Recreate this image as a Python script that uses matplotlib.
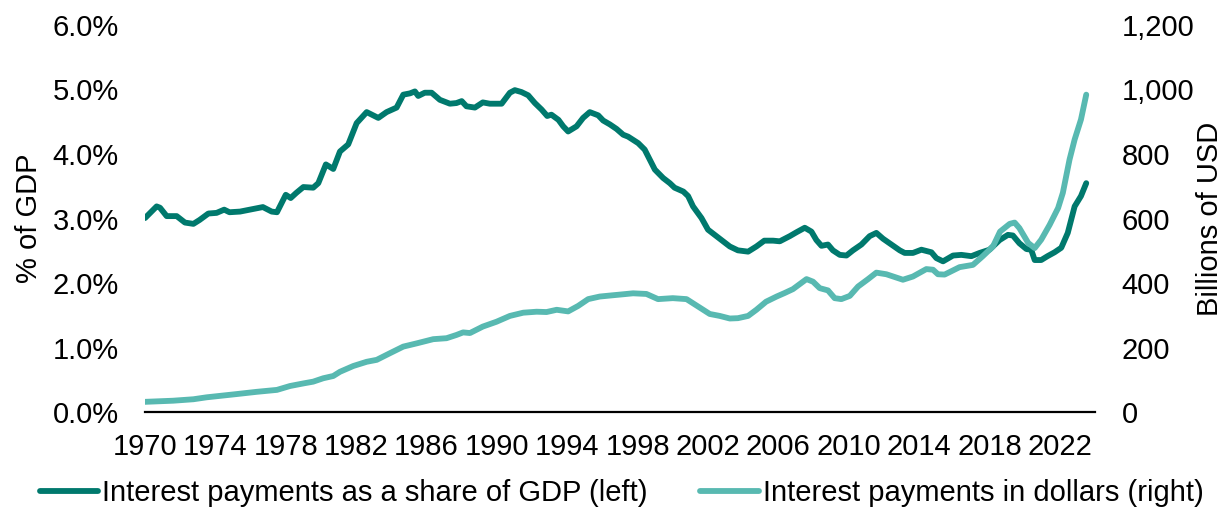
import matplotlib
matplotlib.use("Agg")
import matplotlib.pyplot as plt
from matplotlib.ticker import FuncFormatter, MultipleLocator
from matplotlib.lines import Line2D

plt.rcParams["font.family"] = ["Liberation Sans", "DejaVu Sans"]

# Net interest payments as a share of GDP (%), by year
gdp_years = [1970.0, 1970.66, 1970.85, 1971.23, 1971.8, 1972.27, 1972.75, 1973.1, 1973.6,
             1974.07, 1974.5, 1974.8, 1975.4, 1975.97, 1976.7, 1977.2, 1977.5, 1978.0,
             1978.28, 1978.6, 1979.0, 1979.56, 1979.85, 1980.28, 1980.7, 1981.08, 1981.55,
             1982.03, 1982.4, 1982.6, 1983.26, 1983.73, 1984.3, 1984.68, 1985.06, 1985.34,
             1985.53, 1985.9, 1986.29, 1986.76, 1987.33, 1987.7, 1988.0, 1988.27, 1988.75,
             1989.2, 1989.6, 1990.27, 1990.74, 1991.02, 1991.4, 1991.78, 1992.16, 1992.54,
             1992.86, 1993.1, 1993.5, 1993.77, 1994.05, 1994.53, 1994.9, 1995.28, 1995.76,
             1996.04, 1996.42, 1996.8, 1997.18, 1997.46, 1998.03, 1998.4, 1998.7, 1998.98,
             1999.45, 1999.83, 2000.1, 2000.6, 2000.87, 2001.15, 2001.63, 2002.0, 2002.48,
             2002.86, 2003.24, 2003.7, 2004.28, 2004.75, 2005.2, 2005.7, 2006.08, 2006.65,
             2007.03, 2007.5, 2007.88, 2008.16, 2008.45, 2008.82, 2009.1, 2009.49, 2009.87,
             2010.24, 2010.72, 2011.19, 2011.57, 2011.95, 2012.42, 2012.9, 2013.18, 2013.65,
             2014.13, 2014.7, 2014.98, 2015.36, 2015.93, 2016.4, 2016.97, 2017.44, 2018.0,
             2018.58, 2019.05, 2019.33, 2019.7, 2020.1, 2020.37, 2020.57, 2020.94, 2021.3,
             2021.7, 2022.08, 2022.45, 2022.84, 2023.2, 2023.5]
gdp_share = [3.01, 3.19, 3.17, 3.04, 3.04, 2.94, 2.92, 2.98, 3.08,
             3.09, 3.14, 3.10, 3.11, 3.14, 3.18, 3.11, 3.10, 3.37,
             3.32, 3.40, 3.49, 3.48, 3.55, 3.84, 3.77, 4.04, 4.15,
             4.48, 4.59, 4.65, 4.56, 4.65, 4.72, 4.92, 4.94, 4.97,
             4.90, 4.95, 4.95, 4.84, 4.78, 4.79, 4.82, 4.74, 4.72,
             4.80, 4.78, 4.78, 4.95, 4.99, 4.96, 4.91, 4.79, 4.69,
             4.59, 4.61, 4.53, 4.43, 4.35, 4.43, 4.56, 4.65, 4.60,
             4.52, 4.46, 4.39, 4.30, 4.27, 4.17, 4.07, 3.91, 3.76,
             3.63, 3.55, 3.48, 3.42, 3.35, 3.19, 3.01, 2.83, 2.73,
             2.65, 2.57, 2.51, 2.49, 2.57, 2.66, 2.66, 2.65, 2.73,
             2.79, 2.86, 2.80, 2.67, 2.58, 2.60, 2.51, 2.44, 2.43,
             2.51, 2.60, 2.73, 2.78, 2.69, 2.60, 2.51, 2.47, 2.47,
             2.52, 2.48, 2.39, 2.34, 2.43, 2.44, 2.42, 2.47, 2.52,
             2.67, 2.75, 2.74, 2.62, 2.53, 2.52, 2.36, 2.36, 2.42,
             2.48, 2.55, 2.78, 3.19, 3.35, 3.55]

# Net interest payments in billions of US dollars, by year
usd_years = [1970.0, 1971.6, 1972.75, 1973.5, 1975.2, 1976.35, 1977.5, 1978.24, 1979.0,
             1979.56, 1980.13, 1980.7, 1981.08, 1981.84, 1982.6, 1983.17, 1983.9, 1984.68,
             1985.44, 1986.38, 1987.14, 1987.7, 1988.08, 1988.47, 1989.2, 1989.98, 1990.74,
             1991.5, 1992.26, 1992.82, 1993.4, 1994.05, 1994.62, 1995.19, 1995.85, 1996.6,
             1997.18, 1997.74, 1998.5, 1999.16, 2000.0, 2000.78, 2001.44, 2002.1, 2002.67,
             2003.24, 2003.7, 2004.28, 2004.75, 2005.3, 2005.9, 2006.36, 2006.83, 2007.6,
             2007.97, 2008.35, 2008.82, 2009.2, 2009.58, 2010.06, 2010.53, 2011.1, 2011.57,
             2012.14, 2013.08, 2013.65, 2014.41, 2014.79, 2015.07, 2015.45, 2016.3, 2017.06,
             2017.6, 2018.2, 2018.6, 2019.15, 2019.43, 2019.7, 2020.2, 2020.57, 2020.94,
             2021.42, 2021.9, 2022.17, 2022.55, 2022.84, 2023.2, 2023.5]
usd_bn = [33, 36.5, 41, 47, 57, 64, 70, 82, 90,
          95.5, 106, 113, 126, 144, 157, 163, 183, 204,
          214, 227, 230, 240, 248, 246, 266, 281, 299,
          309, 312, 311, 318, 313, 330, 351, 359, 363,
          366, 369, 367, 351, 354, 351, 328, 305, 299,
          291, 292, 299, 318, 343, 359, 370, 382, 413,
          405, 385, 378, 354, 351, 361, 390, 413, 433,
          428, 411, 421, 444, 442, 428, 427, 450, 457,
          483, 514, 560, 584, 588, 571, 525, 509, 535,
          581, 633, 680, 783, 845, 907, 984]

year_ticks = list(range(1970, 2023, 4))
label_share = "Interest payments as a share of GDP (left)"
label_usd = "Interest payments in dollars (right)"

dark = "#00796D"
light = "#58B9B1"
FS = 21
LW = 4.2

fig = plt.figure(figsize=(12.29, 5.08), dpi=100)
ax = fig.add_axes([0.118, 0.188, 0.773, 0.763])
ax2 = ax.twinx()

ax.plot(gdp_years, gdp_share, color=dark, lw=LW, solid_capstyle="round", solid_joinstyle="round")
ax2.plot(usd_years, usd_bn, color=light, lw=LW, solid_capstyle="round", solid_joinstyle="round")

ax.set_xlim(1970, 2024)
ax.set_ylim(0, 6)
ax2.set_ylim(0, 1200)
ax.yaxis.set_major_locator(MultipleLocator(1))
ax2.yaxis.set_major_locator(MultipleLocator(200))
ax.yaxis.set_major_formatter(FuncFormatter(lambda v, p: f"{v:.1f}%"))
ax2.yaxis.set_major_formatter(FuncFormatter(lambda v, p: f"{v:,.0f}"))
ax.set_xticks(year_ticks)
ax.set_xticklabels([str(y) for y in year_ticks])

for a in (ax, ax2):
    for s in ("top", "left", "right", "bottom"):
        a.spines[s].set_visible(False)
    a.tick_params(length=0, labelsize=FS, colors="black")
ax.spines["bottom"].set_visible(True)
ax.spines["bottom"].set_color("black")
ax.spines["bottom"].set_linewidth(1.6)
ax.spines["bottom"].set_zorder(5)
ax.tick_params(axis="y", pad=19)
ax2.tick_params(axis="y", pad=19)
ax.tick_params(axis="x", pad=15)

ax.set_ylabel("% of GDP", fontsize=FS)
ax.yaxis.set_label_coords(-0.107, 0.5)
ax2.set_ylabel("Billions of USD", fontsize=FS, rotation=90)
ax2.yaxis.set_label_coords(1.106, 0.5)

handles = [Line2D([], [], color=dark, lw=LW, solid_capstyle="round"),
           Line2D([], [], color=light, lw=LW, solid_capstyle="round")]
fig.legend(handles, [label_share, label_usd], loc="center", ncol=2,
           bbox_to_anchor=(0.506, 0.03), frameon=False, fontsize=FS,
           handlelength=2.0, handletextpad=0.15, columnspacing=1.8,
           borderaxespad=0, borderpad=0)

fig.savefig("out.png", dpi=100, facecolor="white")
